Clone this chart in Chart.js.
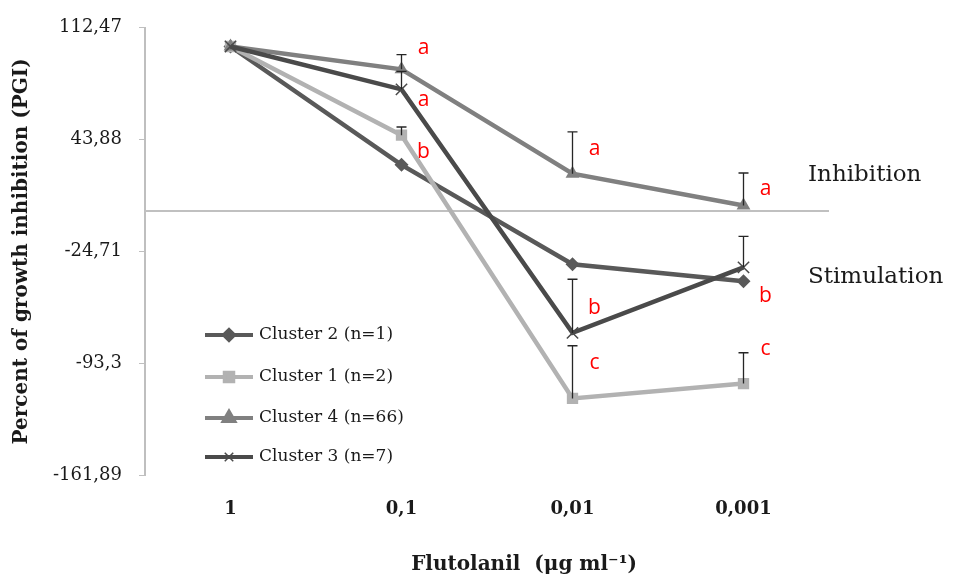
<!DOCTYPE html>
<html>
<head>
<meta charset="utf-8">
<script src="https://cdn.jsdelivr.net/npm/chart.js@4.4.0/dist/chart.umd.min.js"></script>
<style>
  html, body { margin: 0; padding: 0; background: #fff; }
  canvas { display: block; }
</style>
</head>
<body>
<canvas id="pgiChart" width="955" height="579"></canvas>
<script>
// Flutolanil dose (x categories) and y tick values
const doses = ['1', '0,1', '0,01', '0,001'];
const yTicks = [112.47, 43.88, -24.71, -93.3, -161.89];

// mean PGI per cluster
const cluster2 = [101, 28.4, -32.6, -43.0];
const cluster1 = [101, 46.6, -114.9, -105.8];
const cluster4 = [101, 87.0, 23.0, 3.4];
const cluster3 = [101, 74.7, -74.7, -34.5];

// upper error bars
const cluster2Err = [0, 0, 0, 0];
const cluster1Err = [0, 5, 32.3, 18.9];
const cluster4Err = [0, 9, 25.6, 20];
const cluster3Err = [0, 11, 32.9, 19];

// significance letters: dose index, letter, y value
const letterDose = [1, 1, 1, 2, 2, 2, 3, 3, 3];
const letterText = ['a', 'a', 'b', 'a', 'b', 'c', 'a', 'b', 'c'];
const letterY = [100.3, 68, 36.3, 38.1, -59.5, -93, 13.7, -52, -84.5];

// zone labels on the right
const zoneText = ['Inhibition', 'Stimulation'];
const zoneY = [22.3, -40.5];

const series = [
  { label: 'Cluster 2 (n=1)', data: cluster2, err: cluster2Err, color: '#595959', style: 'rectRot', r: 7 },
  { label: 'Cluster 1 (n=2)', data: cluster1, err: cluster1Err, color: '#b2b2b2', style: 'rect', r: 8 },
  { label: 'Cluster 4 (n=66)', data: cluster4, err: cluster4Err, color: '#808080', style: 'triangle', r: 8 },
  { label: 'Cluster 3 (n=7)', data: cluster3, err: cluster3Err, color: '#4a4a4a', style: 'crossRot', r: 8 }
];

const serif = '"DejaVu Serif", "Liberation Serif", serif';

// zero line (acts as the x axis line)
const zeroLine = {
  id: 'zeroLine',
  beforeDatasetsDraw(chart) {
    const { ctx, chartArea, scales: { y } } = chart;
    const py = y.getPixelForValue(0);
    ctx.save();
    ctx.strokeStyle = '#c0c0c0';
    ctx.lineWidth = 2;
    ctx.beginPath();
    ctx.moveTo(chartArea.left, py);
    ctx.lineTo(chartArea.right, py);
    ctx.stroke();
    ctx.restore();
  }
};

// one-sided error bars
const errorBars = {
  id: 'errorBars',
  afterDatasetsDraw(chart) {
    const { ctx, scales: { x, y } } = chart;
    ctx.save();
    ctx.strokeStyle = '#262626';
    ctx.lineWidth = 1.3;
    series.forEach(s => {
      s.err.forEach((e, i) => {
        if (!e) return;
        const px = x.getPixelForValue(i);
        const y0 = y.getPixelForValue(s.data[i]);
        const y1 = y.getPixelForValue(s.data[i] + e);
        ctx.beginPath();
        ctx.moveTo(px, y0);
        ctx.lineTo(px, y1);
        ctx.moveTo(px - 5, y1);
        ctx.lineTo(px + 5, y1);
        ctx.stroke();
      });
    });
    ctx.restore();
  }
};

// letters, zone labels, custom legend, x title
const annotations = {
  id: 'annotations',
  afterDraw(chart) {
    const { ctx, chartArea, scales: { x, y } } = chart;
    ctx.save();
    ctx.textBaseline = 'middle';

    ctx.fillStyle = '#ff0000';
    ctx.font = '21px "Open Sans", sans-serif';
    ctx.textAlign = 'center';
    letterText.forEach((t, i) => {
      ctx.fillText(t, x.getPixelForValue(letterDose[i]) + 22, y.getPixelForValue(letterY[i]));
    });

    ctx.fillStyle = '#1a1a1a';
    ctx.font = '23px ' + serif;
    ctx.textAlign = 'left';
    zoneText.forEach((t, i) => {
      ctx.fillText(t, chartArea.right - 21, y.getPixelForValue(zoneY[i]));
    });

    // legend inside the plot
    const lx = chartArea.left + 60;
    const rows = [335, 377, 418, 457];
    ctx.font = '17px ' + serif;
    series.forEach((s, i) => {
      const ly = rows[i];
      ctx.strokeStyle = s.color;
      ctx.fillStyle = s.color;
      ctx.lineWidth = 4;
      ctx.beginPath();
      ctx.moveTo(lx, ly);
      ctx.lineTo(lx + 48, ly);
      ctx.stroke();
      ctx.lineWidth = s.style === 'crossRot' ? 1.5 : 0;
      Chart.helpers.drawPoint(ctx, { pointStyle: s.style, radius: s.r - 2, rotation: 0, borderWidth: ctx.lineWidth }, lx + 24, ly);
      ctx.fillStyle = '#1a1a1a';
      ctx.fillText(s.label, lx + 54, ly);
    });

    ctx.font = 'bold 20px ' + serif;
    ctx.textAlign = 'center';
    ctx.fillText('Flutolanil  (\u03bcg ml\u207b\u00b9)', (chartArea.left + chartArea.right) / 2 + 37, 565);
    ctx.restore();
  }
};

new Chart(document.getElementById('pgiChart'), {
  type: 'line',
  data: {
    labels: doses,
    datasets: series.map((s, i) => ({
      label: s.label,
      data: s.data,
      borderColor: s.color,
      backgroundColor: s.color,
      borderWidth: 4.5,
      pointStyle: s.style,
      pointRadius: s.r,
      pointBackgroundColor: s.color,
      pointBorderColor: s.color,
      pointBorderWidth: s.style === 'crossRot' ? 1.5 : 0,
      tension: 0,
      order: series.length - i
    }))
  },
  options: {
    responsive: false,
    animation: false,
    events: [],
    layout: { padding: { left: 0, top: 25, right: 126, bottom: 0 } },
    plugins: { legend: { display: false }, tooltip: { enabled: false } },
    scales: {
      x: {
        type: 'category',
        offset: true,
        grid: { display: false, drawTicks: false },
        border: { display: false },
        ticks: { color: '#1a1a1a', padding: 24, font: { family: serif, size: 18, weight: 'bold' } },
        afterFit(scale) { scale.height = 104; }
      },
      y: {
        min: yTicks[yTicks.length - 1],
        max: yTicks[0],
        afterBuildTicks(scale) { scale.ticks = yTicks.map(v => ({ value: v })); },
        grid: { drawOnChartArea: false, drawTicks: true, tickLength: 6, color: '#bfbfbf' },
        border: { color: '#bfbfbf', width: 2 },
        ticks: {
          color: '#1a1a1a',
          padding: 17,
          font: { family: serif, size: 18 },
          callback: v => String(v).replace('.', ',')
        },
        title: {
          display: true,
          text: 'Percent of growth inhibition (PGI)',
          color: '#1a1a1a',
          font: { family: serif, size: 20, weight: 'bold' },
          padding: { top: 10, bottom: 0 }
        },
        afterFit(scale) { scale.width = 145; }
      }
    }
  },
  plugins: [zeroLine, errorBars, annotations]
});
</script>
</body>
</html>
